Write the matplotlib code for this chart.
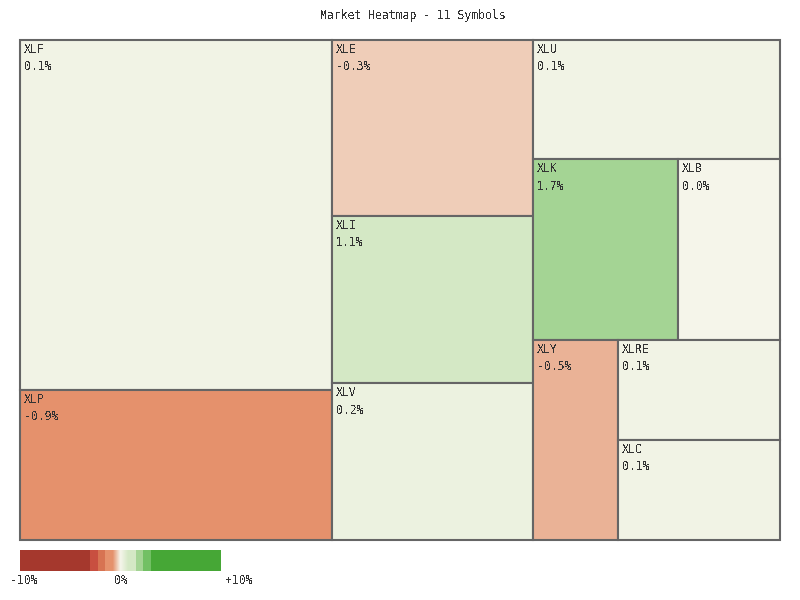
import matplotlib
matplotlib.use("Agg")
import matplotlib.pyplot as plt
from matplotlib.patches import Rectangle
from matplotlib.colors import to_rgb
import numpy as np

# ---------------- data ----------------
symbols = ["XLF", "XLP", "XLE", "XLI", "XLV", "XLU", "XLK", "XLB", "XLY", "XLRE", "XLC"]
weights = [109200, 46800, 35376, 33567, 31557, 29393, 26245, 18462, 17000, 16200, 16200]
changes = [0.1, -0.9, -0.3, 1.1, 0.2, 0.1, 1.7, 0.0, -0.5, 0.1, 0.1]

# tile grouping (indices into the lists above); sizes come from weights
tiling = ("row", [("col", [0, 1]),
                  ("col", [2, 3, 4]),
                  ("col", [5, ("row", [6, 7]), ("row", [8, ("col", [9, 10])])])])

title = "Market Heatmap - 11 Symbols"
scale_min, scale_max = -10, 10
scale_labels = ["-10%", "0%", "+10%"]

# colour scale
WHITE = "#f5f5ea"
pos_steps = [(0.75, "#d4e8c5"), (1.5, "#d4e8c5"), (2.25, "#a4d494"), (3.0, "#72c064"), (np.inf, "#46a736")]
neg_steps = [(0.75, "#e5916c"), (1.5, "#e5916c"), (2.25, "#d77352"), (3.0, "#c84f40"), (np.inf, "#a5382d")]


def change_color(v):
    steps = pos_steps if v >= 0 else neg_steps
    a = abs(v)
    if a < steps[0][0]:
        t = a / steps[0][0]
        c0, c1 = np.array(to_rgb(WHITE)), np.array(to_rgb(steps[0][1]))
        return tuple(c0 + (c1 - c0) * t)
    for lim, col in steps[1:]:
        if a < lim:
            return to_rgb(col)
    return to_rgb(steps[-1][1])


def node_total(node):
    if isinstance(node, int):
        return weights[node]
    return sum(node_total(c) for c in node[1])


def lay(node, x, y, w, h, out):
    if isinstance(node, int):
        out[node] = (x, y, w, h)
        return
    kind, children = node
    tot = node_total(node)
    for c in children:
        s = node_total(c) / tot
        if kind == "row":
            lay(c, x, y, w * s, h, out)
            x += w * s
        else:
            lay(c, x, y, w, h * s, out)
            y += h * s


plt.rcParams["text.antialiased"] = False
FONT = "DejaVu Sans Mono"
FS = 8.3
TXT = "#333333"
EDGE = "#656565"

fig = plt.figure(figsize=(8, 6), dpi=100)
fig.patch.set_facecolor("white")

W, H = 800, 600
ax = fig.add_axes([20 / W, 1 - 540 / H, 760 / W, 500 / H])
ax.set_xlim(0, 1)
ax.set_ylim(1, 0)
ax.axis("off")

rects = {}
lay(tiling, 0.0, 0.0, 1.0, 1.0, rects)
for i, sym in enumerate(symbols):
    x, y, w, h = rects[i]
    ax.add_patch(Rectangle((x, y), w, h, facecolor=change_color(changes[i]),
                           edgecolor=EDGE, linewidth=1.5, clip_on=False))
    ax.annotate(f"{sym}\n{changes[i]:.1f}%", xy=(x, y), xytext=(4, -3),
                textcoords="offset pixels", ha="left", va="top",
                fontsize=FS, family=FONT, color=TXT, linespacing=1.45)

fig.text(412.5 / W, 1 - 15.5 / H, title, ha="center", va="center",
         fontsize=FS, family=FONT, color=TXT)

# colour scale bar
cax = fig.add_axes([20 / W, 1 - 571 / H, 200 / W, 21 / H])
vals = np.linspace(scale_min, scale_max, 400)
img = np.array([change_color(v) for v in vals])[None, :, :]
cax.imshow(img, aspect="auto", extent=(scale_min, scale_max, 0, 1), interpolation="nearest")
cax.axis("off")

fig.text(10 / W, 1 - 581 / H, scale_labels[0], ha="left", va="center", fontsize=FS, family=FONT, color=TXT)
fig.text(121 / W, 1 - 581 / H, scale_labels[1], ha="center", va="center", fontsize=FS, family=FONT, color=TXT)
fig.text(226 / W, 1 - 581 / H, scale_labels[2], ha="left", va="center", fontsize=FS, family=FONT, color=TXT)

fig.savefig("out.png", dpi=100, facecolor="white")
